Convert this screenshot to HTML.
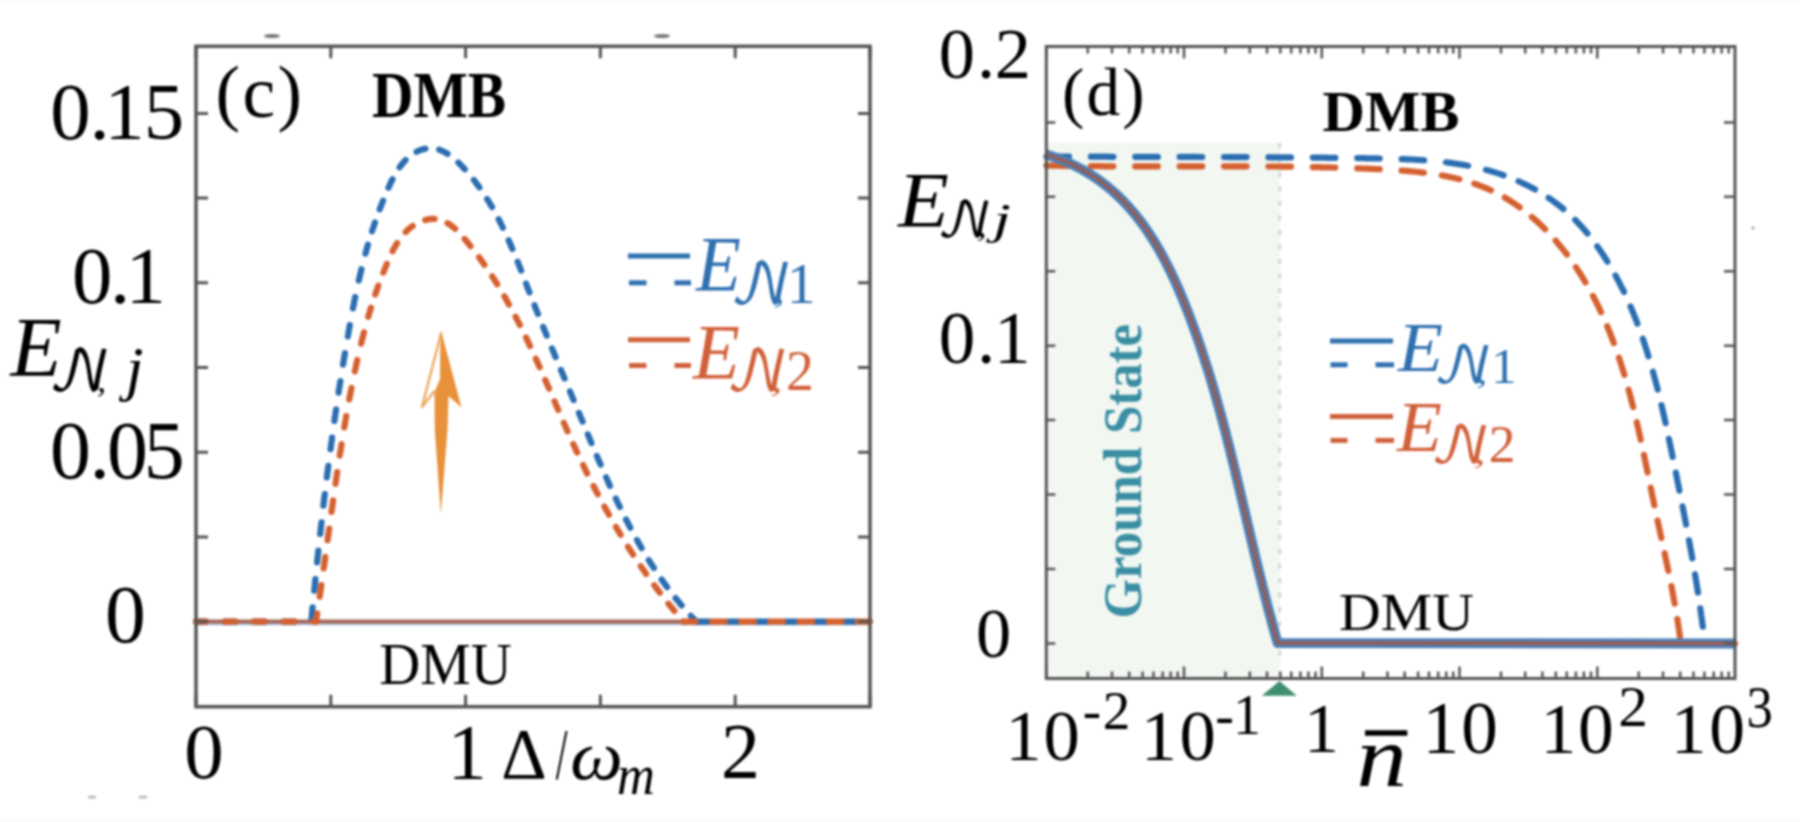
<!DOCTYPE html>
<html><head><meta charset="utf-8"><title>Figure</title>
<style>html,body{margin:0;padding:0;background:#fff;overflow:hidden;}svg{display:block;filter:blur(0.8px);}</style>
</head><body>
<svg width="1800" height="822" viewBox="0 0 1800 822">
<rect x="0" y="0" width="1800" height="822" fill="#ffffff"/>
<rect x="0" y="0" width="1800" height="2" fill="#f7f7f7"/>
<rect x="0" y="820" width="1800" height="2" fill="#f7f7f7"/>
<line x1="197" y1="623.4" x2="869" y2="623.4" stroke="#b5d3ee" stroke-width="4"/>
<line x1="197" y1="621.6" x2="869" y2="621.6" stroke="#a6695b" stroke-width="4.2"/>
<path d="M196.0,621.6 L311.3,621.6" fill="none" stroke="#2a6db0" stroke-width="6.2" stroke-dasharray="11 18.5" stroke-dashoffset="1" stroke-linecap="round" stroke-linejoin="round"/>
<path d="M311.3,621.5 L311.5,618.9 L311.8,616.2 L312.0,613.6 L312.2,611.0 L312.5,608.4 L312.8,605.8 L313.0,603.2 L313.3,600.5 L313.5,597.9 L313.8,595.3 L314.0,592.7 L314.3,590.1 L314.6,587.4 L314.8,584.8 L315.1,582.2 L315.3,579.6 L315.6,576.9 L315.9,574.3 L316.1,571.7 L316.4,569.0 L316.7,566.4 L317.0,563.8 L317.2,561.1 L317.5,558.5 L317.8,555.9 L318.1,553.2 L318.4,550.6 L318.6,548.0 L318.9,545.3 L319.2,542.7 L319.5,540.0 L319.8,537.4 L320.1,534.8 L320.4,532.1 L320.7,529.5 L321.0,526.9 L321.3,524.2 L321.6,521.6 L321.9,518.9 L322.2,516.3 L322.5,513.6 L322.8,511.0 L323.1,508.4 L323.4,505.7 L323.7,503.1 L324.0,500.4 L324.3,497.8 L324.7,495.2 L325.0,492.5 L325.3,489.9 L325.6,487.2 L325.9,484.6 L326.3,482.0 L326.6,479.3 L326.9,476.7 L327.3,474.0 L327.6,471.4 L327.9,468.7 L328.3,466.1 L328.6,463.5 L329.0,460.8 L329.3,458.2 L329.7,455.5 L330.0,452.9 L330.4,450.3 L330.7,447.6 L331.1,445.0 L331.4,442.4 L331.8,439.7 L332.1,437.1 L332.5,434.5 L332.9,431.8 L333.2,429.2 L333.6,426.6 L334.0,423.9 L334.4,421.3 L334.7,418.7 L335.1,416.0 L335.5,413.4 L335.9,410.8 L336.3,408.1 L336.7,405.5 L337.0,402.9 L337.4,400.3 L337.8,397.6 L338.2,395.0 L338.6,392.4 L339.0,389.8 L339.4,387.2 L339.8,384.5 L340.3,381.9 L340.7,379.3 L341.1,376.7 L341.5,374.1 L341.9,371.5 L342.3,368.9 L342.8,366.2 L343.2,363.6 L343.6,361.0 L344.1,358.4 L344.5,355.8 L344.9,353.2 L345.4,350.6 L345.8,348.0 L346.3,345.4 L346.7,342.8 L347.2,340.2 L347.6,337.6 L348.1,335.0 L348.5,332.4 L349.0,329.9 L349.4,327.3 L349.9,324.7 L350.4,322.1 L350.9,319.5 L351.3,316.9 L351.8,314.4 L352.3,311.8 L352.8,309.2 L353.3,306.6 L353.8,304.1 L354.3,301.5 L354.8,298.9 L355.4,296.3 L355.9,293.8 L356.4,291.2 L357.0,288.6 L357.6,286.1 L358.1,283.5 L358.7,280.9 L359.3,278.4 L359.9,275.8 L360.5,273.2 L361.1,270.7 L361.7,268.1 L362.3,265.5 L363.0,263.0 L363.6,260.4" fill="none" stroke="#2a6db0" stroke-width="6.2" stroke-dasharray="11.7 16.8" stroke-dashoffset="-2.45" stroke-linecap="round" stroke-linejoin="round"/>
<path d="M363.6,260.4 L364.3,257.9 L365.0,255.3 L365.7,252.8 L366.4,250.2 L367.1,247.6 L367.8,245.1 L368.6,242.5 L369.4,240.0 L370.1,237.4 L370.9,234.8 L371.7,232.3 L372.5,229.7 L373.4,227.2 L374.2,224.6 L375.1,222.1 L376.0,219.5 L376.9,216.9 L377.8,214.4 L378.7,211.8 L379.7,209.3 L380.7,206.7 L381.7,204.1 L382.7,201.6 L383.7,199.0 L384.8,196.5 L385.8,193.9 L386.9,191.3 L388.0,188.8 L389.2,186.2 L390.3,183.7 L391.5,181.2 L392.8,178.7 L394.1,176.3 L395.4,173.9 L396.8,171.6 L398.2,169.3 L399.7,167.1 L401.3,165.0 L402.9,163.0 L404.6,161.1 L406.4,159.2 L408.3,157.5 L410.2,155.9 L412.3,154.4 L414.4,153.0 L416.6,151.8 L418.8,150.7 L421.1,149.8 L423.4,149.1 L425.8,148.6 L428.1,148.3 L430.4,148.2 L432.7,148.3 L435.0,148.6 L437.3,149.1 L439.5,149.8 L441.7,150.7 L443.9,151.7 L446.1,152.9 L448.2,154.3 L450.3,155.7 L452.4,157.3 L454.5,159.0 L456.5,160.8 L458.5,162.6 L460.4,164.6 L462.4,166.6 L464.2,168.6 L466.1,170.6 L467.9,172.7 L469.7,174.8 L471.4,176.9 L473.2,179.1 L474.8,181.2 L476.5,183.4 L478.1,185.6 L479.7,187.8 L481.2,190.0 L482.7,192.2 L484.2,194.4 L485.7,196.7 L487.1,198.9 L488.5,201.2 L489.9,203.5 L491.3,205.8 L492.6,208.1 L493.9,210.4 L495.2,212.7 L496.5,215.1 L497.7,217.4 L499.0,219.8 L500.2,222.2 L501.3,224.5 L502.5,226.9 L503.6,229.3 L504.8,231.7 L505.9,234.1 L507.0,236.5 L508.1,239.0 L509.1,241.4 L510.2,243.8 L511.2,246.2 L512.3,248.7 L513.3,251.1 L514.3,253.6 L515.3,256.0 L516.3,258.5 L517.3,261.0 L518.3,263.4 L519.3,265.9 L520.2,268.4 L521.2,270.8 L522.1,273.3 L523.1,275.8 L524.0,278.3 L525.0,280.7 L525.9,283.2 L526.9,285.7 L527.8,288.2 L528.8,290.6 L529.8,293.1 L530.7,295.6 L531.7,298.1 L532.6,300.5 L533.6,303.0 L534.6,305.4 L535.5,307.9 L536.5,310.4 L537.5,312.8 L538.5,315.3 L539.5,317.7 L540.4,320.2 L541.4,322.6 L542.4,325.1 L543.4,327.5 L544.4,330.0 L545.4,332.4 L546.4,334.9 L547.4,337.3 L548.4,339.8 L549.4,342.2 L550.4,344.7 L551.4,347.1 L552.5,349.5 L553.5,352.0 L554.5,354.4 L555.5,356.9 L556.5,359.3 L557.5,361.8 L558.6,364.2 L559.6,366.6 L560.6,369.1 L561.6,371.5 L562.6,373.9 L563.7,376.4 L564.7,378.8 L565.7,381.3 L566.7,383.7 L567.8,386.2 L568.8,388.6 L569.8,391.0 L570.8,393.5 L571.8,395.9 L572.9,398.4 L573.9,400.8 L574.9,403.3 L575.9,405.7 L577.0,408.2 L578.0,410.6 L579.0,413.1 L580.0,415.5 L581.0,418.0 L582.1,420.4 L583.1,422.9 L584.1,425.3 L585.1,427.8 L586.1,430.2 L587.1,432.7 L588.2,435.2 L589.2,437.6 L590.2,440.1 L591.2,442.5 L592.3,445.0 L593.3,447.4 L594.3,449.9 L595.4,452.3 L596.4,454.8 L597.4,457.2 L598.5,459.7 L599.5,462.1 L600.6,464.6 L601.6,467.0 L602.7,469.5 L603.8,471.9 L604.8,474.3 L605.9,476.8 L607.0,479.2 L608.1,481.6 L609.1,484.1 L610.2,486.5 L611.3,488.9 L612.4,491.3 L613.6,493.7 L614.7,496.1 L615.8,498.5 L616.9,500.9 L618.1,503.3 L619.2,505.7 L620.4,508.1 L621.5,510.5 L622.7,512.9 L623.9,515.2 L625.1,517.6 L626.3,520.0 L627.5,522.3 L628.7,524.7 L629.9,527.0 L631.2,529.4 L632.4,531.7 L633.7,534.0 L634.9,536.3 L636.2,538.6 L637.5,540.9 L638.8,543.2 L640.1,545.5 L641.4,547.8 L642.8,550.1 L644.1,552.4 L645.5,554.6 L646.8,556.9 L648.2,559.1 L649.6,561.4 L651.0,563.6 L652.4,565.8 L653.9,568.0 L655.3,570.2 L656.8,572.4 L658.3,574.6 L659.8,576.8 L661.3,579.0 L662.8,581.1 L664.3,583.3 L665.9,585.4 L667.4,587.5 L669.0,589.7 L670.6,591.8 L672.2,593.9 L673.9,595.9 L675.5,598.0 L677.2,600.1 L678.9,602.1 L680.6,604.2 L682.3,606.2 L684.0,608.2 L685.8,610.2 L687.6,612.2 L689.4,614.2 L691.2,616.2 L693.0,618.2 L694.8,620.1 L696.7,622.0" fill="none" stroke="#2a6db0" stroke-width="6.2" stroke-dasharray="9.4 13.9" stroke-dashoffset="-6.95" stroke-linecap="round" stroke-linejoin="round"/>
<path d="M696.7,621.6 L870.0,621.6" fill="none" stroke="#2a6db0" stroke-width="6.2" stroke-dasharray="13 16.2" stroke-dashoffset="28.676922358886667" stroke-linecap="round" stroke-linejoin="round"/>
<path d="M196.0,621.6 L315.9,621.6" fill="none" stroke="#d5602f" stroke-width="6.2" stroke-dasharray="11 18.5" stroke-dashoffset="1" stroke-linecap="round" stroke-linejoin="round"/>
<path d="M315.9,621.6 L316.3,619.3 L316.6,617.1 L317.0,614.8 L317.3,612.6 L317.6,610.3 L318.0,608.1 L318.3,605.8 L318.7,603.6 L319.0,601.3 L319.3,599.1 L319.6,596.8 L320.0,594.5 L320.3,592.3 L320.6,590.0 L321.0,587.7 L321.3,585.5 L321.6,583.2 L321.9,580.9 L322.2,578.7 L322.6,576.4 L322.9,574.1 L323.2,571.9 L323.5,569.6 L323.8,567.3 L324.2,565.1 L324.5,562.8 L324.8,560.5 L325.1,558.2 L325.4,556.0 L325.7,553.7 L326.1,551.4 L326.4,549.1 L326.7,546.8 L327.0,544.6 L327.3,542.3 L327.6,540.0 L327.9,537.7 L328.3,535.4 L328.6,533.2 L328.9,530.9 L329.2,528.6 L329.5,526.3 L329.8,524.0 L330.1,521.8 L330.5,519.5 L330.8,517.2 L331.1,514.9 L331.4,512.6 L331.7,510.3 L332.1,508.1 L332.4,505.8 L332.7,503.5 L333.0,501.2 L333.3,498.9 L333.7,496.6 L334.0,494.3 L334.3,492.1 L334.6,489.8 L335.0,487.5 L335.3,485.2 L335.6,482.9 L336.0,480.7 L336.3,478.4 L336.6,476.1 L337.0,473.8 L337.3,471.5 L337.7,469.3 L338.0,467.0 L338.3,464.7 L338.7,462.4 L339.0,460.1 L339.4,457.9 L339.7,455.6 L340.1,453.3 L340.5,451.0 L340.8,448.8 L341.2,446.5 L341.5,444.2 L341.9,441.9 L342.3,439.7 L342.6,437.4 L343.0,435.1 L343.4,432.9 L343.8,430.6 L344.1,428.3 L344.5,426.1 L344.9,423.8 L345.3,421.5 L345.7,419.3 L346.1,417.0 L346.5,414.8 L346.9,412.5 L347.3,410.3 L347.7,408.0 L348.1,405.7 L348.5,403.5 L348.9,401.2 L349.3,399.0 L349.8,396.8 L350.2,394.5 L350.6,392.3 L351.1,390.0 L351.5,387.8 L351.9,385.5 L352.4,383.3 L352.8,381.1 L353.3,378.8 L353.7,376.6 L354.2,374.4 L354.7,372.1 L355.1,369.9 L355.6,367.7 L356.1,365.5 L356.6,363.2 L357.1,361.0 L357.6,358.8 L358.1,356.6 L358.6,354.4 L359.1,352.2 L359.6,349.9 L360.1,347.7 L360.6,345.5 L361.2,343.3 L361.7,341.1 L362.3,338.9 L362.8,336.7 L363.4,334.5 L364.0,332.3 L364.6,330.1 L365.1,327.9 L365.7,325.6 L366.4,323.4" fill="none" stroke="#d5602f" stroke-width="6.2" stroke-dasharray="11.7 16.8" stroke-dashoffset="3.25" stroke-linecap="round" stroke-linejoin="round"/>
<path d="M366.4,323.4 L367.0,321.2 L367.6,319.0 L368.2,316.8 L368.9,314.6 L369.5,312.4 L370.2,310.2 L370.9,308.0 L371.6,305.8 L372.2,303.6 L373.0,301.4 L373.7,299.2 L374.4,297.0 L375.1,294.8 L375.9,292.6 L376.7,290.4 L377.4,288.2 L378.2,286.0 L379.0,283.8 L379.8,281.6 L380.6,279.4 L381.5,277.2 L382.3,275.0 L383.2,272.8 L384.1,270.6 L385.0,268.4 L385.9,266.2 L386.8,264.0 L387.7,261.8 L388.7,259.6 L389.7,257.4 L390.7,255.2 L391.7,253.1 L392.7,250.9 L393.8,248.8 L395.0,246.7 L396.2,244.7 L397.4,242.7 L398.7,240.7 L400.0,238.8 L401.4,237.0 L402.8,235.2 L404.3,233.4 L405.9,231.8 L407.5,230.2 L409.2,228.6 L411.0,227.2 L412.9,225.8 L414.9,224.6 L416.9,223.4 L419.0,222.4 L421.1,221.4 L423.2,220.6 L425.4,219.9 L427.5,219.4 L429.7,219.1 L431.8,218.8 L433.9,218.8 L436.0,219.0 L438.0,219.3 L439.9,219.8 L441.9,220.4 L443.7,221.1 L445.6,222.0 L447.4,223.1 L449.2,224.2 L450.9,225.4 L452.7,226.8 L454.4,228.2 L456.0,229.7 L457.7,231.3 L459.3,233.0 L460.9,234.7 L462.4,236.4 L464.0,238.2 L465.5,240.0 L467.0,241.8 L468.5,243.6 L470.0,245.5 L471.5,247.3 L472.9,249.2 L474.4,251.0 L475.8,252.9 L477.2,254.7 L478.6,256.6 L480.0,258.5 L481.3,260.4 L482.7,262.3 L484.0,264.2 L485.4,266.1 L486.7,268.0 L488.0,269.9 L489.3,271.9 L490.6,273.8 L491.8,275.7 L493.1,277.7 L494.3,279.6 L495.6,281.6 L496.8,283.5 L498.0,285.5 L499.2,287.5 L500.4,289.4 L501.6,291.4 L502.7,293.4 L503.9,295.4 L505.0,297.4 L506.2,299.4 L507.3,301.4 L508.4,303.4 L509.5,305.4 L510.6,307.4 L511.7,309.4 L512.8,311.4 L513.9,313.5 L515.0,315.5 L516.0,317.5 L517.1,319.6 L518.1,321.6 L519.2,323.6 L520.2,325.7 L521.2,327.7 L522.3,329.8 L523.3,331.9 L524.3,333.9 L525.3,336.0 L526.3,338.0 L527.3,340.1 L528.2,342.2 L529.2,344.3 L530.2,346.3 L531.2,348.4 L532.1,350.5 L533.1,352.6 L534.0,354.7 L535.0,356.7 L535.9,358.8 L536.9,360.9 L537.8,363.0 L538.7,365.1 L539.7,367.2 L540.6,369.3 L541.5,371.4 L542.5,373.5 L543.4,375.6 L544.3,377.7 L545.2,379.8 L546.1,381.9 L547.0,384.0 L548.0,386.1 L548.9,388.2 L549.8,390.3 L550.7,392.4 L551.6,394.6 L552.5,396.7 L553.4,398.8 L554.3,400.9 L555.2,403.0 L556.1,405.1 L557.0,407.2 L558.0,409.3 L558.9,411.4 L559.8,413.5 L560.7,415.6 L561.6,417.8 L562.5,419.9 L563.4,422.0 L564.4,424.1 L565.3,426.2 L566.2,428.3 L567.1,430.4 L568.1,432.5 L569.0,434.6 L569.9,436.7 L570.9,438.8 L571.8,440.9 L572.8,443.0 L573.7,445.1 L574.7,447.2 L575.6,449.2 L576.6,451.3 L577.6,453.4 L578.5,455.5 L579.5,457.6 L580.5,459.7 L581.5,461.7 L582.5,463.8 L583.5,465.9 L584.5,468.0 L585.5,470.0 L586.5,472.1 L587.5,474.2 L588.6,476.2 L589.6,478.3 L590.6,480.3 L591.7,482.4 L592.7,484.4 L593.8,486.5 L594.8,488.5 L595.9,490.6 L596.9,492.6 L598.0,494.6 L599.1,496.7 L600.2,498.7 L601.2,500.7 L602.3,502.8 L603.4,504.8 L604.5,506.8 L605.6,508.8 L606.8,510.8 L607.9,512.8 L609.0,514.8 L610.1,516.8 L611.3,518.8 L612.4,520.8 L613.6,522.8 L614.7,524.8 L615.9,526.8 L617.0,528.8 L618.2,530.7 L619.4,532.7 L620.6,534.7 L621.8,536.6 L623.0,538.6 L624.2,540.5 L625.4,542.5 L626.6,544.4 L627.8,546.4 L629.0,548.3 L630.3,550.3 L631.5,552.2 L632.7,554.1 L634.0,556.0 L635.3,557.9 L636.5,559.9 L637.8,561.8 L639.1,563.7 L640.4,565.6 L641.6,567.5 L642.9,569.3 L644.3,571.2 L645.6,573.1 L646.9,575.0 L648.2,576.9 L649.5,578.7 L650.9,580.6 L652.2,582.4 L653.6,584.3 L654.9,586.1 L656.3,588.0 L657.7,589.8 L659.1,591.6 L660.4,593.4 L661.8,595.3 L663.2,597.1 L664.6,598.9 L666.1,600.7 L667.5,602.5 L668.9,604.3 L670.4,606.0 L671.8,607.8 L673.3,609.6 L674.7,611.3 L676.2,613.1 L677.7,614.9 L679.1,616.6 L680.6,618.4 L682.1,620.1 L683.6,621.8" fill="none" stroke="#d5602f" stroke-width="6.2" stroke-dasharray="9.4 13.9" stroke-dashoffset="-6.95" stroke-linecap="round" stroke-linejoin="round"/>
<path d="M683.6,621.6 L870.0,621.6" fill="none" stroke="#d5602f" stroke-width="6.2" stroke-dasharray="13 16.2" stroke-dashoffset="1" stroke-linecap="round" stroke-linejoin="round"/>
<path d="M441.4,332 L422,407 L434.5,391" fill="none" stroke="#eea862" stroke-width="2.4" stroke-linejoin="round"/>
<path d="M441.4,332 L461.5,407.6 L448.5,396 L447.5,430 L440.8,514 L434.8,430 L434.5,392 L440,379 L440.3,345 Z" fill="#e8913a"/>
<rect x="196" y="46.3" width="674" height="660.4" fill="none" stroke="#555555" stroke-width="3.5"/>
<path d="M196.0,706.7 v-12 M196.0,46.3 v12 M330.8,706.7 v-12 M330.8,46.3 v12 M465.6,706.7 v-12 M465.6,46.3 v12 M600.4,706.7 v-12 M600.4,46.3 v12 M735.2,706.7 v-12 M735.2,46.3 v12 M870.0,706.7 v-12 M870.0,46.3 v12 M196,621.6 h12 M870,621.6 h-12 M196,536.9 h12 M870,536.9 h-12 M196,452.2 h12 M870,452.2 h-12 M196,367.5 h12 M870,367.5 h-12 M196,282.8 h12 M870,282.8 h-12 M196,198.1 h12 M870,198.1 h-12 M196,113.4 h12 M870,113.4 h-12" stroke="#555555" stroke-width="3" fill="none"/>
<rect x="1046.3" y="142.5" width="233.5" height="536" fill="#f2f7f2"/>
<line x1="1279.8" y1="143" x2="1279.8" y2="664" stroke="#cfcfcf" stroke-width="2.5" stroke-dasharray="5 9.5"/>
<path d="M1046.5,156.5 L1048.2,156.6 L1049.9,156.6 L1051.6,156.6 L1053.3,156.6 L1055.0,156.6 L1056.7,156.6 L1058.4,156.6 L1060.0,156.6 L1061.7,156.6 L1063.4,156.6 L1065.1,156.6 L1066.8,156.6 L1068.5,156.6 L1070.2,156.6 L1071.9,156.6 L1073.5,156.7 L1075.2,156.7 L1076.9,156.7 L1078.6,156.7 L1080.3,156.7 L1081.9,156.7 L1083.6,156.7 L1085.3,156.7 L1087.0,156.7 L1088.6,156.7 L1090.3,156.7 L1092.0,156.7 L1093.7,156.7 L1095.3,156.7 L1097.0,156.7 L1098.7,156.7 L1100.3,156.7 L1102.0,156.7 L1103.7,156.7 L1105.3,156.7 L1107.0,156.7 L1108.7,156.8 L1110.3,156.8 L1112.0,156.8 L1113.7,156.8 L1115.3,156.8 L1117.0,156.8 L1118.6,156.8 L1120.3,156.8 L1122.0,156.8 L1123.6,156.8 L1125.3,156.8 L1126.9,156.8 L1128.6,156.8 L1130.2,156.8 L1131.9,156.8 L1133.5,156.8 L1135.2,156.8 L1136.9,156.8 L1138.5,156.8 L1140.2,156.8 L1141.8,156.8 L1143.5,156.8 L1145.1,156.8 L1146.8,156.8 L1148.4,156.8 L1150.1,156.8 L1151.7,156.8 L1153.4,156.8 L1155.0,156.8 L1156.6,156.9 L1158.3,156.9 L1159.9,156.9 L1161.6,156.9 L1163.2,156.9 L1164.9,156.9 L1166.5,156.9 L1168.2,156.9 L1169.8,156.9 L1171.4,156.9 L1173.1,156.9 L1174.7,156.9 L1176.4,156.9 L1178.0,156.9 L1179.7,156.9 L1181.3,156.9 L1182.9,156.9 L1184.6,156.9 L1186.2,156.9 L1187.9,156.9 L1189.5,156.9 L1191.1,156.9 L1192.8,156.9 L1194.4,156.9 L1196.1,156.9 L1197.7,156.9 L1199.3,157.0 L1201.0,157.0 L1202.6,157.0 L1204.2,157.0 L1205.9,157.0 L1207.5,157.0 L1209.2,157.0 L1210.8,157.0 L1212.4,157.0 L1214.1,157.0 L1215.7,157.0 L1217.4,157.0 L1219.0,157.0 L1220.6,157.0 L1222.3,157.0 L1223.9,157.0 L1225.5,157.0 L1227.2,157.0 L1228.8,157.1 L1230.5,157.1 L1232.1,157.1 L1233.7,157.1 L1235.4,157.1 L1237.0,157.1 L1238.7,157.1 L1240.3,157.1 L1241.9,157.1 L1243.6,157.1 L1245.2,157.1 L1246.8,157.1 L1248.5,157.1 L1250.1,157.1 L1251.8,157.2 L1253.4,157.2 L1255.0,157.2 L1256.7,157.2 L1258.3,157.2 L1260.0,157.2 L1261.6,157.2 L1263.3,157.2 L1264.9,157.2 L1266.5,157.2 L1268.2,157.2 L1269.8,157.3 L1271.5,157.3 L1273.1,157.3 L1274.8,157.3 L1276.4,157.3 L1278.0,157.3 L1279.7,157.3 L1281.3,157.3 L1283.0,157.3 L1284.6,157.4 L1286.3,157.4 L1287.9,157.4 L1289.6,157.4 L1291.2,157.4 L1292.9,157.4 L1294.5,157.4 L1296.2,157.5 L1297.8,157.5 L1299.5,157.5 L1301.1,157.5 L1302.8,157.5 L1304.4,157.5 L1306.1,157.5 L1307.7,157.6 L1309.4,157.6 L1311.1,157.6 L1312.7,157.6 L1314.4,157.6 L1316.0,157.6 L1317.7,157.7 L1319.3,157.7 L1321.0,157.7 L1322.7,157.7 L1324.3,157.7 L1326.0,157.7 L1327.7,157.8 L1329.3,157.8 L1331.0,157.8 L1332.7,157.8 L1334.3,157.8 L1336.0,157.9 L1337.7,157.9 L1339.3,157.9 L1341.0,157.9 L1342.7,157.9 L1344.3,158.0 L1346.0,158.0 L1347.7,158.0 L1349.4,158.0 L1351.0,158.0 L1352.7,158.1 L1354.4,158.1 L1356.1,158.1 L1357.7,158.1 L1359.4,158.2 L1361.1,158.2 L1362.8,158.2 L1364.5,158.2 L1366.1,158.3 L1367.8,158.3 L1369.5,158.3 L1371.2,158.3 L1372.9,158.4 L1374.6,158.4 L1376.3,158.4 L1378.0,158.5 L1379.6,158.5 L1381.3,158.5 L1383.0,158.6 L1384.7,158.6 L1386.4,158.6 L1388.1,158.7 L1389.8,158.7 L1391.5,158.8 L1393.2,158.8 L1394.9,158.9 L1396.6,158.9 L1398.3,159.0 L1400.0,159.0 L1401.7,159.1 L1403.3,159.1 L1405.0,159.2 L1406.7,159.3 L1408.4,159.4 L1410.1,159.4 L1411.8,159.5 L1413.5,159.6 L1415.2,159.7 L1416.9,159.8 L1418.6,159.9 L1420.3,160.0 L1421.9,160.1 L1423.6,160.2 L1425.3,160.3 L1427.0,160.5 L1428.7,160.6 L1430.3,160.7 L1432.0,160.9 L1433.7,161.0 L1435.4,161.2 L1437.1,161.3 L1438.7,161.5 L1440.4,161.7 L1442.1,161.9 L1443.7,162.1 L1445.4,162.2 L1447.1,162.5 L1448.7,162.7 L1450.4,162.9 L1452.0,163.1 L1453.7,163.3 L1455.3,163.6 L1457.0,163.8 L1458.6,164.1 L1460.3,164.3 L1461.9,164.6 L1463.6,164.9 L1465.2,165.2 L1466.8,165.5 L1468.5,165.8 L1470.1,166.1 L1471.7,166.5 L1473.3,166.8 L1475.0,167.1 L1476.6,167.5 L1478.2,167.9" fill="none" stroke="#2a6db0" stroke-width="6.2" stroke-dasharray="22.5 21.9" stroke-dashoffset="0" stroke-linecap="round" stroke-linejoin="round"/>
<path d="M1478.2,167.9 L1479.8,168.2 L1481.4,168.6 L1483.0,169.0 L1484.6,169.4 L1486.2,169.9 L1487.8,170.3 L1489.4,170.7 L1491.0,171.2 L1492.5,171.7 L1494.1,172.1 L1495.7,172.6 L1497.3,173.1 L1498.8,173.6 L1500.4,174.1 L1501.9,174.7 L1503.5,175.2 L1505.0,175.8 L1506.6,176.4 L1508.1,176.9 L1509.6,177.5 L1511.2,178.1 L1512.7,178.7 L1514.2,179.4 L1515.7,180.0 L1517.2,180.6 L1518.7,181.3 L1520.2,182.0 L1521.7,182.7 L1523.2,183.4 L1524.6,184.1 L1526.1,184.8 L1527.6,185.5 L1529.0,186.3 L1530.5,187.0 L1531.9,187.8 L1533.3,188.5 L1534.8,189.3 L1536.2,190.1 L1537.6,190.9 L1539.0,191.8 L1540.4,192.6 L1541.8,193.4 L1543.2,194.3 L1544.5,195.2 L1545.9,196.1 L1547.3,196.9 L1548.6,197.9 L1550.0,198.8 L1551.3,199.7 L1552.6,200.6 L1553.9,201.6 L1555.2,202.6 L1556.5,203.5 L1557.8,204.5 L1559.1,205.5 L1560.4,206.5 L1561.6,207.5 L1562.9,208.6 L1564.1,209.6 L1565.4,210.7 L1566.6,211.8 L1567.8,212.8 L1569.0,213.9 L1570.2,215.0 L1571.4,216.2 L1572.6,217.3 L1573.7,218.4 L1574.9,219.6 L1576.0,220.7 L1577.2,221.9 L1578.3,223.1 L1579.4,224.3 L1580.5,225.5 L1581.6,226.7 L1582.7,227.9 L1583.8,229.1 L1584.8,230.4 L1585.9,231.6 L1587.0,232.9 L1588.0,234.2 L1589.0,235.4 L1590.1,236.7 L1591.1,238.0 L1592.1,239.3 L1593.1,240.6 L1594.1,241.9 L1595.1,243.3 L1596.0,244.6 L1597.0,245.9 L1597.9,247.3 L1598.9,248.6 L1599.8,250.0 L1600.8,251.3 L1601.7,252.7 L1602.6,254.1 L1603.5,255.4 L1604.4,256.8 L1605.3,258.2 L1606.2,259.6 L1607.0,261.0 L1607.9,262.4 L1608.8,263.8 L1609.6,265.2 L1610.5,266.7 L1611.3,268.1 L1612.1,269.5 L1612.9,270.9 L1613.8,272.4 L1614.6,273.8 L1615.4,275.3 L1616.2,276.7 L1616.9,278.2 L1617.7,279.6 L1618.5,281.1 L1619.2,282.6 L1620.0,284.0 L1620.7,285.5 L1621.5,287.0 L1622.2,288.5 L1623.0,289.9 L1623.7,291.4 L1624.4,292.9 L1625.1,294.4 L1625.8,295.9 L1626.5,297.4 L1627.2,298.9 L1627.9,300.4 L1628.5,302.0 L1629.2,303.5 L1629.9,305.0 L1630.5,306.5 L1631.2,308.0 L1631.8,309.6 L1632.5,311.1 L1633.1,312.6 L1633.7,314.2 L1634.3,315.7 L1635.0,317.3 L1635.6,318.8 L1636.2,320.4 L1636.8,321.9 L1637.4,323.5 L1637.9,325.0 L1638.5,326.6 L1639.1,328.2 L1639.7,329.7 L1640.2,331.3 L1640.8,332.9 L1641.4,334.5 L1641.9,336.0 L1642.5,337.6 L1643.0,339.2 L1643.5,340.8 L1644.1,342.4 L1644.6,344.0 L1645.1,345.6 L1645.6,347.2 L1646.1,348.7 L1646.6,350.3 L1647.1,351.9 L1647.6,353.6 L1648.1,355.2 L1648.6,356.8 L1649.1,358.4 L1649.6,360.0 L1650.1,361.6 L1650.5,363.2 L1651.0,364.8 L1651.5,366.4 L1651.9,368.1 L1652.4,369.7 L1652.9,371.3 L1653.3,372.9 L1653.7,374.5 L1654.2,376.2 L1654.6,377.8 L1655.1,379.4 L1655.5,381.1 L1655.9,382.7 L1656.3,384.3 L1656.8,385.9 L1657.2,387.6 L1657.6,389.2 L1658.0,390.8 L1658.4,392.5 L1658.8,394.1 L1659.2,395.8 L1659.6,397.4 L1660.0,399.0 L1660.4,400.7 L1660.8,402.3 L1661.2,404.0 L1661.6,405.6 L1662.0,407.2 L1662.4,408.9 L1662.7,410.5 L1663.1,412.2 L1663.5,413.8 L1663.9,415.5 L1664.2,417.1 L1664.6,418.7 L1665.0,420.4 L1665.3,422.0 L1665.7,423.7 L1666.0,425.3 L1666.4,427.0 L1666.8,428.6 L1667.1,430.3 L1667.5,431.9 L1667.8,433.5 L1668.2,435.2 L1668.5,436.8 L1668.8,438.5 L1669.2,440.1 L1669.5,441.8 L1669.9,443.4 L1670.2,445.0 L1670.6,446.7 L1670.9,448.3 L1671.2,450.0 L1671.6,451.6 L1671.9,453.2 L1672.2,454.9 L1672.6,456.5 L1672.9,458.1 L1673.2,459.8 L1673.6,461.4 L1673.9,463.0 L1674.2,464.7 L1674.5,466.3 L1674.9,467.9 L1675.2,469.6 L1675.5,471.2 L1675.9,472.8 L1676.2,474.4 L1676.5,476.0 L1676.8,477.7 L1677.2,479.3 L1677.5,480.9 L1677.8,482.5 L1678.1,484.1 L1678.5,485.8 L1678.8,487.4 L1679.1,489.0 L1679.4,490.6 L1679.7,492.2 L1680.1,493.8 L1680.4,495.4 L1680.7,497.0 L1681.0,498.6 L1681.3,500.3 L1681.7,501.9 L1682.0,503.5 L1682.3,505.1 L1682.6,506.7 L1682.9,508.3 L1683.2,509.9 L1683.6,511.5 L1683.9,513.1 L1684.2,514.7 L1684.5,516.3 L1684.8,517.9 L1685.1,519.5 L1685.4,521.1 L1685.7,522.7 L1686.0,524.3 L1686.3,525.9 L1686.6,527.5 L1686.9,529.1 L1687.3,530.7 L1687.6,532.3 L1687.9,533.9 L1688.2,535.5 L1688.5,537.1 L1688.8,538.8 L1689.0,540.4 L1689.3,542.0 L1689.6,543.6 L1689.9,545.2 L1690.2,546.8 L1690.5,548.4 L1690.8,550.0 L1691.1,551.6 L1691.4,553.2 L1691.7,554.8 L1692.0,556.4 L1692.2,558.0 L1692.5,559.6 L1692.8,561.3 L1693.1,562.9 L1693.4,564.5 L1693.6,566.1 L1693.9,567.7 L1694.2,569.3 L1694.5,571.0 L1694.7,572.6 L1695.0,574.2 L1695.3,575.8 L1695.5,577.4 L1695.8,579.1 L1696.1,580.7 L1696.3,582.3 L1696.6,583.9 L1696.9,585.6 L1697.1,587.2 L1697.4,588.8 L1697.6,590.5 L1697.9,592.1 L1698.1,593.7 L1698.4,595.4 L1698.6,597.0 L1698.9,598.6 L1699.1,600.3 L1699.4,601.9 L1699.6,603.6 L1699.8,605.2 L1700.1,606.9 L1700.3,608.5 L1700.6,610.2 L1700.8,611.8 L1701.0,613.5 L1701.2,615.2 L1701.5,616.8 L1701.7,618.5 L1701.9,620.2 L1702.1,621.8 L1702.4,623.5 L1702.6,625.2 L1702.8,626.8 L1703.0,628.5 L1703.2,630.2 L1703.4,631.9 L1703.6,633.6 L1703.8,635.3 L1704.0,636.9 L1704.2,638.6 L1704.4,640.3 L1704.6,642.0 L1704.8,643.7 L1735.0,643.5" fill="none" stroke="#2a6db0" stroke-width="6.2" stroke-dasharray="18.5 16.0" stroke-dashoffset="-8.0" stroke-linecap="round" stroke-linejoin="round"/>
<path d="M1046.5,165.5 L1048.1,165.6 L1049.8,165.6 L1051.4,165.6 L1053.1,165.7 L1054.7,165.7 L1056.4,165.7 L1058.0,165.7 L1059.6,165.8 L1061.3,165.8 L1062.9,165.8 L1064.5,165.9 L1066.2,165.9 L1067.8,165.9 L1069.4,165.9 L1071.1,165.9 L1072.7,166.0 L1074.3,166.0 L1076.0,166.0 L1077.6,166.0 L1079.2,166.0 L1080.8,166.1 L1082.4,166.1 L1084.1,166.1 L1085.7,166.1 L1087.3,166.1 L1088.9,166.1 L1090.5,166.2 L1092.1,166.2 L1093.7,166.2 L1095.4,166.2 L1097.0,166.2 L1098.6,166.2 L1100.2,166.2 L1101.8,166.2 L1103.4,166.3 L1105.0,166.3 L1106.6,166.3 L1108.2,166.3 L1109.8,166.3 L1111.4,166.3 L1113.0,166.3 L1114.6,166.3 L1116.2,166.3 L1117.8,166.3 L1119.4,166.3 L1121.0,166.3 L1122.6,166.3 L1124.2,166.3 L1125.8,166.3 L1127.4,166.3 L1129.0,166.4 L1130.5,166.4 L1132.1,166.4 L1133.7,166.4 L1135.3,166.4 L1136.9,166.4 L1138.5,166.4 L1140.1,166.4 L1141.7,166.4 L1143.2,166.4 L1144.8,166.4 L1146.4,166.4 L1148.0,166.4 L1149.6,166.4 L1151.2,166.4 L1152.7,166.4 L1154.3,166.4 L1155.9,166.4 L1157.5,166.4 L1159.1,166.4 L1160.6,166.4 L1162.2,166.4 L1163.8,166.4 L1165.4,166.4 L1166.9,166.3 L1168.5,166.3 L1170.1,166.3 L1171.7,166.3 L1173.2,166.3 L1174.8,166.3 L1176.4,166.3 L1178.0,166.3 L1179.5,166.3 L1181.1,166.3 L1182.7,166.3 L1184.3,166.3 L1185.8,166.3 L1187.4,166.3 L1189.0,166.3 L1190.6,166.3 L1192.1,166.3 L1193.7,166.3 L1195.3,166.3 L1196.8,166.3 L1198.4,166.3 L1200.0,166.3 L1201.5,166.3 L1203.1,166.3 L1204.7,166.3 L1206.3,166.3 L1207.8,166.3 L1209.4,166.3 L1211.0,166.3 L1212.5,166.3 L1214.1,166.3 L1215.7,166.3 L1217.3,166.3 L1218.8,166.3 L1220.4,166.3 L1222.0,166.3 L1223.5,166.3 L1225.1,166.3 L1226.7,166.3 L1228.2,166.3 L1229.8,166.3 L1231.4,166.3 L1233.0,166.3 L1234.5,166.3 L1236.1,166.3 L1237.7,166.3 L1239.2,166.3 L1240.8,166.3 L1242.4,166.3 L1244.0,166.3 L1245.5,166.3 L1247.1,166.3 L1248.7,166.3 L1250.3,166.3 L1251.8,166.4 L1253.4,166.4 L1255.0,166.4 L1256.6,166.4 L1258.1,166.4 L1259.7,166.4 L1261.3,166.4 L1262.9,166.4 L1264.4,166.4 L1266.0,166.4 L1267.6,166.5 L1269.2,166.5 L1270.8,166.5 L1272.3,166.5 L1273.9,166.5 L1275.5,166.5 L1277.1,166.5 L1278.7,166.6 L1280.2,166.6 L1281.8,166.6 L1283.4,166.6 L1285.0,166.6 L1286.6,166.6 L1288.2,166.7 L1289.8,166.7 L1291.3,166.7 L1292.9,166.7 L1294.5,166.7 L1296.1,166.8 L1297.7,166.8 L1299.3,166.8 L1300.9,166.8 L1302.5,166.9 L1304.1,166.9 L1305.7,166.9 L1307.3,167.0 L1308.9,167.0 L1310.5,167.0 L1312.1,167.0 L1313.7,167.1 L1315.3,167.1 L1316.9,167.1 L1318.5,167.2 L1320.1,167.2 L1321.7,167.3 L1323.3,167.3 L1324.9,167.3 L1326.5,167.4 L1328.1,167.4 L1329.7,167.4 L1331.3,167.5 L1332.9,167.5 L1334.5,167.6 L1336.1,167.6 L1337.8,167.7 L1339.4,167.7 L1341.0,167.8 L1342.6,167.8 L1344.2,167.9 L1345.9,167.9 L1347.5,168.0 L1349.1,168.0 L1350.7,168.1 L1352.3,168.1 L1354.0,168.2 L1355.6,168.2 L1357.2,168.3 L1358.9,168.4 L1360.5,168.4 L1362.1,168.5 L1363.8,168.5 L1365.4,168.6 L1367.0,168.7 L1368.7,168.7 L1370.3,168.8 L1372.0,168.9 L1373.6,168.9 L1375.2,169.0 L1376.9,169.1 L1378.5,169.2 L1380.2,169.2 L1381.8,169.3 L1383.5,169.4 L1385.1,169.5 L1386.8,169.6 L1388.4,169.7 L1390.1,169.8 L1391.7,169.9 L1393.4,170.0 L1395.0,170.1 L1396.7,170.2 L1398.3,170.3 L1399.9,170.4 L1401.6,170.5 L1403.2,170.7 L1404.9,170.8 L1406.5,170.9 L1408.2,171.1 L1409.8,171.2 L1411.4,171.4 L1413.1,171.5 L1414.7,171.7 L1416.3,171.8 L1418.0,172.0 L1419.6,172.2 L1421.2,172.4 L1422.9,172.6 L1424.5,172.8 L1426.1,173.0 L1427.7,173.2 L1429.3,173.4 L1430.9,173.7 L1432.6,173.9 L1434.2,174.1" fill="none" stroke="#d5602f" stroke-width="6.2" stroke-dasharray="22.5 21.9" stroke-dashoffset="0" stroke-linecap="round" stroke-linejoin="round"/>
<path d="M1434.2,174.1 L1435.8,174.4 L1437.4,174.7 L1439.0,174.9 L1440.6,175.2 L1442.1,175.5 L1443.7,175.8 L1445.3,176.1 L1446.9,176.4 L1448.5,176.7 L1450.0,177.0 L1451.6,177.4 L1453.2,177.7 L1454.7,178.1 L1456.3,178.5 L1457.8,178.8 L1459.4,179.2 L1460.9,179.6 L1462.4,180.0 L1463.9,180.5 L1465.5,180.9 L1467.0,181.3 L1468.5,181.8 L1470.0,182.3 L1471.5,182.7 L1473.0,183.2 L1474.5,183.7 L1476.0,184.2 L1477.4,184.8 L1478.9,185.3 L1480.4,185.9 L1481.8,186.4 L1483.3,187.0 L1484.7,187.6 L1486.2,188.2 L1487.6,188.8 L1489.0,189.4 L1490.4,190.1 L1491.8,190.7 L1493.2,191.4 L1494.6,192.1 L1496.0,192.8 L1497.4,193.5 L1498.8,194.2 L1500.1,195.0 L1501.5,195.7 L1502.8,196.5 L1504.2,197.2 L1505.5,198.0 L1506.9,198.8 L1508.2,199.6 L1509.5,200.4 L1510.8,201.3 L1512.1,202.1 L1513.4,203.0 L1514.7,203.8 L1516.0,204.7 L1517.3,205.6 L1518.5,206.5 L1519.8,207.4 L1521.0,208.3 L1522.3,209.2 L1523.5,210.2 L1524.8,211.1 L1526.0,212.1 L1527.2,213.1 L1528.4,214.0 L1529.6,215.0 L1530.8,216.0 L1532.0,217.0 L1533.2,218.1 L1534.4,219.1 L1535.5,220.1 L1536.7,221.2 L1537.9,222.2 L1539.0,223.3 L1540.2,224.4 L1541.3,225.5 L1542.4,226.6 L1543.5,227.7 L1544.7,228.8 L1545.8,229.9 L1546.9,231.0 L1548.0,232.2 L1549.0,233.3 L1550.1,234.5 L1551.2,235.6 L1552.3,236.8 L1553.3,238.0 L1554.4,239.2 L1555.4,240.3 L1556.4,241.5 L1557.5,242.8 L1558.5,244.0 L1559.5,245.2 L1560.5,246.4 L1561.5,247.6 L1562.5,248.9 L1563.5,250.1 L1564.5,251.4 L1565.5,252.7 L1566.4,253.9 L1567.4,255.2 L1568.3,256.5 L1569.3,257.8 L1570.2,259.1 L1571.2,260.4 L1572.1,261.7 L1573.0,263.0 L1573.9,264.3 L1574.8,265.6 L1575.7,266.9 L1576.6,268.3 L1577.5,269.6 L1578.4,270.9 L1579.2,272.3 L1580.1,273.6 L1581.0,275.0 L1581.8,276.3 L1582.6,277.7 L1583.5,279.1 L1584.3,280.4 L1585.1,281.8 L1585.9,283.2 L1586.7,284.6 L1587.5,286.0 L1588.3,287.4 L1589.1,288.8 L1589.9,290.2 L1590.7,291.6 L1591.4,293.0 L1592.2,294.4 L1592.9,295.8 L1593.7,297.2 L1594.4,298.6 L1595.1,300.0 L1595.9,301.5 L1596.6,302.9 L1597.3,304.3 L1598.0,305.8 L1598.7,307.2 L1599.4,308.6 L1600.1,310.1 L1600.7,311.5 L1601.4,313.0 L1602.1,314.4 L1602.7,315.9 L1603.4,317.3 L1604.0,318.8 L1604.7,320.2 L1605.3,321.7 L1605.9,323.2 L1606.5,324.6 L1607.2,326.1 L1607.8,327.6 L1608.4,329.1 L1609.0,330.5 L1609.6,332.0 L1610.2,333.5 L1610.8,335.0 L1611.3,336.5 L1611.9,338.0 L1612.5,339.5 L1613.0,341.0 L1613.6,342.5 L1614.1,344.0 L1614.7,345.5 L1615.2,347.0 L1615.8,348.5 L1616.3,350.0 L1616.8,351.5 L1617.4,353.0 L1617.9,354.5 L1618.4,356.0 L1618.9,357.6 L1619.4,359.1 L1619.9,360.6 L1620.4,362.1 L1620.9,363.7 L1621.4,365.2 L1621.9,366.7 L1622.3,368.2 L1622.8,369.8 L1623.3,371.3 L1623.8,372.8 L1624.2,374.4 L1624.7,375.9 L1625.1,377.5 L1625.6,379.0 L1626.0,380.6 L1626.5,382.1 L1626.9,383.6 L1627.3,385.2 L1627.8,386.7 L1628.2,388.3 L1628.6,389.8 L1629.1,391.4 L1629.5,393.0 L1629.9,394.5 L1630.3,396.1 L1630.7,397.6 L1631.1,399.2 L1631.5,400.7 L1631.9,402.3 L1632.3,403.9 L1632.7,405.4 L1633.1,407.0 L1633.5,408.6 L1633.9,410.1 L1634.3,411.7 L1634.6,413.3 L1635.0,414.8 L1635.4,416.4 L1635.8,418.0 L1636.1,419.5 L1636.5,421.1 L1636.9,422.7 L1637.2,424.2 L1637.6,425.8 L1638.0,427.4 L1638.3,429.0 L1638.7,430.5 L1639.0,432.1 L1639.4,433.7 L1639.7,435.3 L1640.1,436.8 L1640.4,438.4 L1640.8,440.0 L1641.1,441.6 L1641.5,443.1 L1641.8,444.7 L1642.1,446.3 L1642.5,447.9 L1642.8,449.5 L1643.2,451.0 L1643.5,452.6 L1643.8,454.2 L1644.2,455.8 L1644.5,457.3 L1644.8,458.9 L1645.1,460.5 L1645.5,462.1 L1645.8,463.6 L1646.1,465.2 L1646.4,466.8 L1646.8,468.4 L1647.1,469.9 L1647.4,471.5 L1647.7,473.1 L1648.1,474.7 L1648.4,476.2 L1648.7,477.8 L1649.0,479.4 L1649.4,481.0 L1649.7,482.5 L1650.0,484.1 L1650.3,485.7 L1650.6,487.3 L1651.0,488.8 L1651.3,490.4 L1651.6,492.0 L1651.9,493.5 L1652.2,495.1 L1652.6,496.7 L1652.9,498.2 L1653.2,499.8 L1653.5,501.3 L1653.9,502.9 L1654.2,504.5 L1654.5,506.0 L1654.8,507.6 L1655.2,509.1 L1655.5,510.7 L1655.8,512.3 L1656.1,513.8 L1656.5,515.4 L1656.8,516.9 L1657.1,518.5 L1657.5,520.0 L1657.8,521.6 L1658.1,523.1 L1658.5,524.7 L1658.8,526.2 L1659.1,527.8 L1659.5,529.3 L1659.8,530.9 L1660.1,532.4 L1660.5,534.0 L1660.8,535.5 L1661.1,537.0 L1661.5,538.6 L1661.8,540.1 L1662.1,541.7 L1662.5,543.2 L1662.8,544.8 L1663.1,546.3 L1663.5,547.9 L1663.8,549.4 L1664.1,550.9 L1664.5,552.5 L1664.8,554.0 L1665.1,555.6 L1665.4,557.1 L1665.8,558.7 L1666.1,560.2 L1666.4,561.7 L1666.7,563.3 L1667.1,564.8 L1667.4,566.4 L1667.7,567.9 L1668.0,569.5 L1668.4,571.0 L1668.7,572.6 L1669.0,574.1 L1669.3,575.7 L1669.6,577.2 L1669.9,578.8 L1670.2,580.3 L1670.6,581.9 L1670.9,583.4 L1671.2,585.0 L1671.5,586.5 L1671.8,588.1 L1672.1,589.7 L1672.4,591.2 L1672.7,592.8 L1673.0,594.3 L1673.3,595.9 L1673.6,597.5 L1673.8,599.0 L1674.1,600.6 L1674.4,602.2 L1674.7,603.7 L1675.0,605.3 L1675.3,606.9 L1675.5,608.5 L1675.8,610.0 L1676.1,611.6 L1676.3,613.2 L1676.6,614.8 L1676.9,616.4 L1677.1,618.0 L1677.4,619.5 L1677.7,621.1 L1677.9,622.7 L1678.2,624.3 L1678.4,625.9 L1678.6,627.5 L1678.9,629.1 L1679.1,630.7 L1679.4,632.3 L1679.6,633.9 L1679.8,635.5 L1680.0,637.1 L1680.3,638.8 L1680.5,640.4 L1680.7,642.0 L1680.9,643.6 L1735.0,643.5" fill="none" stroke="#d5602f" stroke-width="6.2" stroke-dasharray="18 15.5" stroke-dashoffset="-7.75" stroke-linecap="round" stroke-linejoin="round"/>
<path d="M1045.2,154.3 L1047.2,154.9 L1049.2,155.5 L1051.1,156.1 L1053.1,156.8 L1055.1,157.5 L1057.0,158.1 L1058.9,158.9 L1060.8,159.6 L1062.7,160.3 L1064.5,161.1 L1066.3,161.8 L1068.2,162.6 L1070.0,163.4 L1071.8,164.3 L1073.5,165.1 L1075.3,166.0 L1077.0,166.8 L1078.7,167.7 L1080.5,168.6 L1082.1,169.6 L1083.8,170.5 L1085.5,171.5 L1087.1,172.4 L1088.7,173.4 L1090.4,174.4 L1091.9,175.4 L1093.5,176.5 L1095.1,177.5 L1096.6,178.6 L1098.2,179.6 L1099.7,180.7 L1101.2,181.8 L1102.7,183.0 L1104.2,184.1 L1105.6,185.2 L1107.1,186.4 L1108.5,187.6 L1109.9,188.7 L1111.3,189.9 L1112.7,191.2 L1114.1,192.4 L1115.5,193.6 L1116.8,194.9 L1118.2,196.1 L1119.5,197.4 L1120.8,198.7 L1122.1,200.0 L1123.4,201.3 L1124.6,202.6 L1125.9,204.0 L1127.2,205.3 L1128.4,206.7 L1129.6,208.1 L1130.8,209.4 L1132.0,210.8 L1133.2,212.2 L1134.4,213.6 L1135.6,215.1 L1136.7,216.5 L1137.8,217.9 L1139.0,219.4 L1140.1,220.8 L1141.2,222.3 L1142.3,223.8 L1143.4,225.3 L1144.5,226.8 L1145.5,228.3 L1146.6,229.8 L1147.6,231.3 L1148.7,232.9 L1149.7,234.4 L1150.7,236.0 L1151.7,237.5 L1152.7,239.1 L1153.7,240.7 L1154.7,242.3 L1155.6,243.9 L1156.6,245.5 L1157.5,247.1 L1158.5,248.7 L1159.4,250.3 L1160.3,251.9 L1161.2,253.6 L1162.1,255.2 L1163.0,256.8 L1163.9,258.5 L1164.8,260.2 L1165.6,261.8 L1166.5,263.5 L1167.4,265.2 L1168.2,266.8 L1169.0,268.5 L1169.9,270.2 L1170.7,271.9 L1171.5,273.6 L1172.3,275.3 L1173.1,277.0 L1173.9,278.7 L1174.7,280.5 L1175.5,282.2 L1176.3,283.9 L1177.0,285.6 L1177.8,287.4 L1178.6,289.1 L1179.3,290.9 L1180.1,292.6 L1180.8,294.4 L1181.5,296.1 L1182.3,297.9 L1183.0,299.6 L1183.7,301.4 L1184.4,303.1 L1185.1,304.9 L1185.8,306.7 L1186.5,308.4 L1187.2,310.2 L1187.9,312.0 L1188.6,313.7 L1189.2,315.5 L1189.9,317.3 L1190.6,319.1 L1191.2,320.8 L1191.9,322.6 L1192.6,324.4 L1193.2,326.2 L1193.9,328.0 L1194.5,329.7 L1195.1,331.5 L1195.8,333.3 L1196.4,335.1 L1197.0,336.9 L1197.7,338.7 L1198.3,340.5 L1198.9,342.2 L1199.5,344.0 L1200.1,345.8 L1200.7,347.6 L1201.3,349.4 L1201.9,351.2 L1202.5,353.0 L1203.1,354.8 L1203.7,356.6 L1204.3,358.4 L1204.8,360.2 L1205.4,362.0 L1206.0,363.8 L1206.6,365.6 L1207.1,367.4 L1207.7,369.2 L1208.3,371.0 L1208.8,372.8 L1209.4,374.6 L1209.9,376.4 L1210.5,378.2 L1211.0,380.1 L1211.5,381.9 L1212.1,383.7 L1212.6,385.5 L1213.1,387.3 L1213.7,389.1 L1214.2,390.9 L1214.7,392.7 L1215.2,394.6 L1215.8,396.4 L1216.3,398.2 L1216.8,400.0 L1217.3,401.8 L1217.8,403.6 L1218.3,405.5 L1218.8,407.3 L1219.3,409.1 L1219.8,410.9 L1220.3,412.8 L1220.8,414.6 L1221.3,416.4 L1221.8,418.2 L1222.3,420.0 L1222.8,421.9 L1223.3,423.7 L1223.7,425.5 L1224.2,427.4 L1224.7,429.2 L1225.2,431.0 L1225.6,432.8 L1226.1,434.7 L1226.6,436.5 L1227.0,438.3 L1227.5,440.1 L1228.0,442.0 L1228.4,443.8 L1228.9,445.6 L1229.4,447.5 L1229.8,449.3 L1230.3,451.1 L1230.7,453.0 L1231.2,454.8 L1231.6,456.6 L1232.1,458.5 L1232.5,460.3 L1233.0,462.1 L1233.4,464.0 L1233.9,465.8 L1234.3,467.6 L1234.8,469.5 L1235.2,471.3 L1235.7,473.1 L1236.1,475.0 L1236.5,476.8 L1237.0,478.6 L1237.4,480.5 L1237.8,482.3 L1238.3,484.2 L1238.7,486.0 L1239.2,487.8 L1239.6,489.7 L1240.0,491.5 L1240.5,493.3 L1240.9,495.2 L1241.3,497.0 L1241.8,498.8 L1242.2,500.7 L1242.6,502.5 L1243.0,504.4 L1243.5,506.2 L1243.9,508.0 L1244.3,509.9 L1244.8,511.7 L1245.2,513.5 L1245.6,515.4 L1246.1,517.2 L1246.5,519.0 L1246.9,520.9 L1247.3,522.7 L1247.8,524.5 L1248.2,526.4 L1248.6,528.2 L1249.1,530.1 L1249.5,531.9 L1249.9,533.7 L1250.3,535.6 L1250.8,537.4 L1251.2,539.2 L1251.6,541.1 L1252.1,542.9 L1252.5,544.7 L1252.9,546.6 L1253.4,548.4 L1253.8,550.2 L1254.2,552.1 L1254.7,553.9 L1255.1,555.7 L1255.5,557.6 L1256.0,559.4 L1256.4,561.2 L1256.9,563.0 L1257.3,564.9 L1257.7,566.7 L1258.2,568.5 L1258.6,570.4 L1259.1,572.2 L1259.5,574.0 L1260.0,575.8 L1260.4,577.7 L1260.9,579.5 L1261.3,581.3 L1261.8,583.1 L1262.2,585.0 L1262.7,586.8 L1263.1,588.6 L1263.6,590.4 L1264.1,592.3 L1264.5,594.1 L1265.0,595.9 L1265.4,597.7 L1265.9,599.5 L1266.4,601.4 L1266.8,603.2 L1267.3,605.0 L1267.8,606.8 L1268.3,608.6 L1268.7,610.4 L1269.2,612.3 L1269.7,614.1 L1270.2,615.9 L1270.7,617.7 L1271.2,619.5 L1271.6,621.3 L1272.1,623.1 L1272.6,624.9 L1273.1,626.7 L1273.6,628.5 L1274.1,630.4 L1274.6,632.2 L1275.1,634.0 L1275.6,635.8 L1276.1,637.6 L1276.7,639.4 L1277.2,641.2 L1277.7,643.0 L1735.0,643.5" fill="none" stroke="#4a80b9" stroke-width="10" stroke-linejoin="round"/>
<path d="M1045.2,154.3 L1047.2,154.9 L1049.2,155.5 L1051.1,156.1 L1053.1,156.8 L1055.1,157.5 L1057.0,158.1 L1058.9,158.9 L1060.8,159.6 L1062.7,160.3 L1064.5,161.1 L1066.3,161.8 L1068.2,162.6 L1070.0,163.4 L1071.8,164.3 L1073.5,165.1 L1075.3,166.0 L1077.0,166.8 L1078.7,167.7 L1080.5,168.6 L1082.1,169.6 L1083.8,170.5 L1085.5,171.5 L1087.1,172.4 L1088.7,173.4 L1090.4,174.4 L1091.9,175.4 L1093.5,176.5 L1095.1,177.5 L1096.6,178.6 L1098.2,179.6 L1099.7,180.7 L1101.2,181.8 L1102.7,183.0 L1104.2,184.1 L1105.6,185.2 L1107.1,186.4 L1108.5,187.6 L1109.9,188.7 L1111.3,189.9 L1112.7,191.2 L1114.1,192.4 L1115.5,193.6 L1116.8,194.9 L1118.2,196.1 L1119.5,197.4 L1120.8,198.7 L1122.1,200.0 L1123.4,201.3 L1124.6,202.6 L1125.9,204.0 L1127.2,205.3 L1128.4,206.7 L1129.6,208.1 L1130.8,209.4 L1132.0,210.8 L1133.2,212.2 L1134.4,213.6 L1135.6,215.1 L1136.7,216.5 L1137.8,217.9 L1139.0,219.4 L1140.1,220.8 L1141.2,222.3 L1142.3,223.8 L1143.4,225.3 L1144.5,226.8 L1145.5,228.3 L1146.6,229.8 L1147.6,231.3 L1148.7,232.9 L1149.7,234.4 L1150.7,236.0 L1151.7,237.5 L1152.7,239.1 L1153.7,240.7 L1154.7,242.3 L1155.6,243.9 L1156.6,245.5 L1157.5,247.1 L1158.5,248.7 L1159.4,250.3 L1160.3,251.9 L1161.2,253.6 L1162.1,255.2 L1163.0,256.8 L1163.9,258.5 L1164.8,260.2 L1165.6,261.8 L1166.5,263.5 L1167.4,265.2 L1168.2,266.8 L1169.0,268.5 L1169.9,270.2 L1170.7,271.9 L1171.5,273.6 L1172.3,275.3 L1173.1,277.0 L1173.9,278.7 L1174.7,280.5 L1175.5,282.2 L1176.3,283.9 L1177.0,285.6 L1177.8,287.4 L1178.6,289.1 L1179.3,290.9 L1180.1,292.6 L1180.8,294.4 L1181.5,296.1 L1182.3,297.9 L1183.0,299.6 L1183.7,301.4 L1184.4,303.1 L1185.1,304.9 L1185.8,306.7 L1186.5,308.4 L1187.2,310.2 L1187.9,312.0 L1188.6,313.7 L1189.2,315.5 L1189.9,317.3 L1190.6,319.1 L1191.2,320.8 L1191.9,322.6 L1192.6,324.4 L1193.2,326.2 L1193.9,328.0 L1194.5,329.7 L1195.1,331.5 L1195.8,333.3 L1196.4,335.1 L1197.0,336.9 L1197.7,338.7 L1198.3,340.5 L1198.9,342.2 L1199.5,344.0 L1200.1,345.8 L1200.7,347.6 L1201.3,349.4 L1201.9,351.2 L1202.5,353.0 L1203.1,354.8 L1203.7,356.6 L1204.3,358.4 L1204.8,360.2 L1205.4,362.0 L1206.0,363.8 L1206.6,365.6 L1207.1,367.4 L1207.7,369.2 L1208.3,371.0 L1208.8,372.8 L1209.4,374.6 L1209.9,376.4 L1210.5,378.2 L1211.0,380.1 L1211.5,381.9 L1212.1,383.7 L1212.6,385.5 L1213.1,387.3 L1213.7,389.1 L1214.2,390.9 L1214.7,392.7 L1215.2,394.6 L1215.8,396.4 L1216.3,398.2 L1216.8,400.0 L1217.3,401.8 L1217.8,403.6 L1218.3,405.5 L1218.8,407.3 L1219.3,409.1 L1219.8,410.9 L1220.3,412.8 L1220.8,414.6 L1221.3,416.4 L1221.8,418.2 L1222.3,420.0 L1222.8,421.9 L1223.3,423.7 L1223.7,425.5 L1224.2,427.4 L1224.7,429.2 L1225.2,431.0 L1225.6,432.8 L1226.1,434.7 L1226.6,436.5 L1227.0,438.3 L1227.5,440.1 L1228.0,442.0 L1228.4,443.8 L1228.9,445.6 L1229.4,447.5 L1229.8,449.3 L1230.3,451.1 L1230.7,453.0 L1231.2,454.8 L1231.6,456.6 L1232.1,458.5 L1232.5,460.3 L1233.0,462.1 L1233.4,464.0 L1233.9,465.8 L1234.3,467.6 L1234.8,469.5 L1235.2,471.3 L1235.7,473.1 L1236.1,475.0 L1236.5,476.8 L1237.0,478.6 L1237.4,480.5 L1237.8,482.3 L1238.3,484.2 L1238.7,486.0 L1239.2,487.8 L1239.6,489.7 L1240.0,491.5 L1240.5,493.3 L1240.9,495.2 L1241.3,497.0 L1241.8,498.8 L1242.2,500.7 L1242.6,502.5 L1243.0,504.4 L1243.5,506.2 L1243.9,508.0 L1244.3,509.9 L1244.8,511.7 L1245.2,513.5 L1245.6,515.4 L1246.1,517.2 L1246.5,519.0 L1246.9,520.9 L1247.3,522.7 L1247.8,524.5 L1248.2,526.4 L1248.6,528.2 L1249.1,530.1 L1249.5,531.9 L1249.9,533.7 L1250.3,535.6 L1250.8,537.4 L1251.2,539.2 L1251.6,541.1 L1252.1,542.9 L1252.5,544.7 L1252.9,546.6 L1253.4,548.4 L1253.8,550.2 L1254.2,552.1 L1254.7,553.9 L1255.1,555.7 L1255.5,557.6 L1256.0,559.4 L1256.4,561.2 L1256.9,563.0 L1257.3,564.9 L1257.7,566.7 L1258.2,568.5 L1258.6,570.4 L1259.1,572.2 L1259.5,574.0 L1260.0,575.8 L1260.4,577.7 L1260.9,579.5 L1261.3,581.3 L1261.8,583.1 L1262.2,585.0 L1262.7,586.8 L1263.1,588.6 L1263.6,590.4 L1264.1,592.3 L1264.5,594.1 L1265.0,595.9 L1265.4,597.7 L1265.9,599.5 L1266.4,601.4 L1266.8,603.2 L1267.3,605.0 L1267.8,606.8 L1268.3,608.6 L1268.7,610.4 L1269.2,612.3 L1269.7,614.1 L1270.2,615.9 L1270.7,617.7 L1271.2,619.5 L1271.6,621.3 L1272.1,623.1 L1272.6,624.9 L1273.1,626.7 L1273.6,628.5 L1274.1,630.4 L1274.6,632.2 L1275.1,634.0 L1275.6,635.8 L1276.1,637.6 L1276.7,639.4 L1277.2,641.2 L1277.7,643.0 L1735.0,643.5" fill="none" stroke="#955e58" stroke-width="3.8" stroke-linejoin="round"/>
<rect x="1046.3" y="46.5" width="688.7" height="632" fill="none" stroke="#555555" stroke-width="3"/>
<path d="M1046.3,678.5 v-12 M1046.3,46.5 v12 M1087.8,678.5 v-7 M1087.8,46.5 v7 M1112.0,678.5 v-7 M1112.0,46.5 v7 M1129.2,678.5 v-7 M1129.2,46.5 v7 M1142.6,678.5 v-7 M1142.6,46.5 v7 M1153.5,678.5 v-7 M1153.5,46.5 v7 M1162.7,678.5 v-7 M1162.7,46.5 v7 M1170.7,678.5 v-7 M1170.7,46.5 v7 M1177.7,678.5 v-7 M1177.7,46.5 v7 M1184.0,678.5 v-12 M1184.0,46.5 v12 M1225.5,678.5 v-7 M1225.5,46.5 v7 M1249.8,678.5 v-7 M1249.8,46.5 v7 M1267.0,678.5 v-7 M1267.0,46.5 v7 M1280.3,678.5 v-7 M1280.3,46.5 v7 M1291.2,678.5 v-7 M1291.2,46.5 v7 M1300.4,678.5 v-7 M1300.4,46.5 v7 M1308.4,678.5 v-7 M1308.4,46.5 v7 M1315.5,678.5 v-7 M1315.5,46.5 v7 M1321.8,678.5 v-12 M1321.8,46.5 v12 M1363.2,678.5 v-7 M1363.2,46.5 v7 M1387.5,678.5 v-7 M1387.5,46.5 v7 M1404.7,678.5 v-7 M1404.7,46.5 v7 M1418.1,678.5 v-7 M1418.1,46.5 v7 M1429.0,678.5 v-7 M1429.0,46.5 v7 M1438.2,678.5 v-7 M1438.2,46.5 v7 M1446.2,678.5 v-7 M1446.2,46.5 v7 M1453.2,678.5 v-7 M1453.2,46.5 v7 M1459.5,678.5 v-12 M1459.5,46.5 v12 M1501.0,678.5 v-7 M1501.0,46.5 v7 M1525.2,678.5 v-7 M1525.2,46.5 v7 M1542.4,678.5 v-7 M1542.4,46.5 v7 M1555.8,678.5 v-7 M1555.8,46.5 v7 M1566.7,678.5 v-7 M1566.7,46.5 v7 M1575.9,678.5 v-7 M1575.9,46.5 v7 M1583.9,678.5 v-7 M1583.9,46.5 v7 M1591.0,678.5 v-7 M1591.0,46.5 v7 M1597.3,678.5 v-12 M1597.3,46.5 v12 M1638.7,678.5 v-7 M1638.7,46.5 v7 M1663.0,678.5 v-7 M1663.0,46.5 v7 M1680.2,678.5 v-7 M1680.2,46.5 v7 M1693.5,678.5 v-7 M1693.5,46.5 v7 M1704.4,678.5 v-7 M1704.4,46.5 v7 M1713.7,678.5 v-7 M1713.7,46.5 v7 M1721.7,678.5 v-7 M1721.7,46.5 v7 M1728.7,678.5 v-7 M1728.7,46.5 v7 M1046.3,569.0 h9 M1735,569.0 h-11 M1046.3,494.6 h9 M1735,494.6 h-11 M1046.3,420.1 h9 M1735,420.1 h-11 M1046.3,345.7 h9 M1735,345.7 h-11 M1046.3,271.2 h9 M1735,271.2 h-11 M1046.3,196.8 h9 M1735,196.8 h-11 M1046.3,122.4 h9 M1735,122.4 h-11 M1046.3,643.5 h9 M1735,643.5 h-11" stroke="#555555" stroke-width="2.5" fill="none"/>
<path d="M1279.5,681 L1296.7,695.8 L1261.7,695.8 Z" fill="#3f8f6f"/>
<text x="50.2 89.5 104.2 143.8" y="138.7" font-size="80.9" style="font-family:'Liberation Serif',serif" font-style="normal" font-weight="normal" fill="#000">0.15</text>
<text x="72.0 110.0 125.6" y="302.9" font-size="80.9" style="font-family:'Liberation Serif',serif" font-style="normal" font-weight="normal" fill="#000">0.1</text>
<text x="50.1 89.5 107.0 143.8" y="478.3" font-size="81.8" style="font-family:'Liberation Serif',serif" font-style="normal" font-weight="normal" fill="#000">0.05</text>
<text x="104.9" y="642.4" font-size="81.6" style="font-family:'Liberation Serif',serif" font-style="normal" font-weight="normal" fill="#000">0</text>
<text x="215.6" y="116.8" font-size="73.6" style="font-family:'Liberation Serif',serif" font-style="normal" font-weight="normal" fill="#000" letter-spacing="2.32">(c)</text>
<text x="371.9" y="117.3" font-size="65.3" style="font-family:'Liberation Serif',serif" font-style="normal" font-weight="bold" fill="#000" textLength="134.2" lengthAdjust="spacingAndGlyphs">DMB</text>
<text x="10.6" y="375.9" font-size="85.5" style="font-family:'Liberation Serif',serif" font-style="italic" font-weight="normal" fill="#000" textLength="51.2" lengthAdjust="spacingAndGlyphs">E</text>
<text x="48.5" y="390.3" font-size="55.2" style="font-family:'DejaVu Math TeX Gyre',serif" font-style="normal" font-weight="normal" fill="#000" textLength="62.5" lengthAdjust="spacingAndGlyphs">&#x1D4A9;</text>
<text x="96.9" y="392.1" font-size="34.4" style="font-family:'Liberation Serif',serif" font-style="italic" font-weight="normal" fill="#000" textLength="9.2" lengthAdjust="spacingAndGlyphs">,</text>
<text x="125.7" y="389.1" font-size="60.6" style="font-family:'Liberation Serif',serif" font-style="italic" font-weight="normal" fill="#000" textLength="17.8" lengthAdjust="spacingAndGlyphs">j</text>
<line x1="628" y1="255.9" x2="690" y2="255.9" stroke="#2f70b0" stroke-width="5"/>
<line x1="629" y1="282.8" x2="646.5" y2="282.8" stroke="#2f70b0" stroke-width="5"/>
<line x1="674.5" y1="282.8" x2="691" y2="282.8" stroke="#2f70b0" stroke-width="5"/>
<text x="696.1" y="289.5" font-size="77.7" style="font-family:'Liberation Serif',serif" font-style="italic" font-weight="normal" fill="#2f70b0" textLength="44.9" lengthAdjust="spacingAndGlyphs">E</text>
<text x="730.0" y="303.1" font-size="55.6" style="font-family:'DejaVu Math TeX Gyre',serif" font-style="normal" font-weight="normal" fill="#2f70b0" textLength="62.5" lengthAdjust="spacingAndGlyphs">&#x1D4A9;</text>
<text x="773.5" y="302.5" font-size="32.7" style="font-family:'Liberation Serif',serif" font-style="normal" font-weight="normal" fill="#2f70b0" textLength="11.2" lengthAdjust="spacingAndGlyphs">,</text>
<text x="786.7" y="302.6" font-size="57.6" style="font-family:'Liberation Serif',serif" font-style="normal" font-weight="normal" fill="#2f70b0">1</text>
<line x1="628" y1="339.7" x2="690" y2="339.7" stroke="#d0603a" stroke-width="5"/>
<line x1="629" y1="365.5" x2="646.5" y2="365.5" stroke="#d0603a" stroke-width="5"/>
<line x1="674.5" y1="365.5" x2="691" y2="365.5" stroke="#d0603a" stroke-width="5"/>
<text x="693.1" y="377.5" font-size="77.9" style="font-family:'Liberation Serif',serif" font-style="italic" font-weight="normal" fill="#d0603a" textLength="46.9" lengthAdjust="spacingAndGlyphs">E</text>
<text x="725.9" y="389.8" font-size="55.4" style="font-family:'DejaVu Math TeX Gyre',serif" font-style="normal" font-weight="normal" fill="#d0603a" textLength="62.7" lengthAdjust="spacingAndGlyphs">&#x1D4A9;</text>
<text x="770.1" y="391.4" font-size="32.3" style="font-family:'Liberation Serif',serif" font-style="normal" font-weight="normal" fill="#d0603a" textLength="12.7" lengthAdjust="spacingAndGlyphs">,</text>
<text x="786.1" y="390.0" font-size="57.6" style="font-family:'Liberation Serif',serif" font-style="normal" font-weight="normal" fill="#d0603a" textLength="27.9" lengthAdjust="spacingAndGlyphs">2</text>
<text x="379.3" y="683.8" font-size="59.9" style="font-family:'Liberation Serif',serif" font-style="normal" font-weight="normal" fill="#000" textLength="132.4" lengthAdjust="spacingAndGlyphs">DMU</text>
<text x="184.2" y="777.7" font-size="78.8" style="font-family:'Liberation Serif',serif" font-style="normal" font-weight="normal" fill="#000">0</text>
<text x="447.5" y="777.6" font-size="78.6" style="font-family:'Liberation Serif',serif" font-style="normal" font-weight="normal" fill="#000">1</text>
<text x="501.2" y="777.6" font-size="71.1" style="font-family:'Liberation Serif',serif" font-style="normal" font-weight="normal" fill="#000" textLength="45.5" lengthAdjust="spacingAndGlyphs">&#916;</text>
<text x="555.7" y="777.8" font-size="72.5" style="font-family:'Liberation Serif',serif" font-style="normal" font-weight="normal" fill="#000" textLength="11.8" lengthAdjust="spacingAndGlyphs">/</text>
<text x="570.2" y="778.6" font-size="70.0" style="font-family:'Liberation Serif',serif" font-style="italic" font-weight="normal" fill="#000" textLength="52.6" lengthAdjust="spacingAndGlyphs">&#969;</text>
<text x="616.9" y="793.7" font-size="56.0" style="font-family:'Liberation Serif',serif" font-style="italic" font-weight="normal" fill="#000" textLength="37.9" lengthAdjust="spacingAndGlyphs">m</text>
<text x="720.9" y="776.8" font-size="77.5" style="font-family:'Liberation Serif',serif" font-style="normal" font-weight="normal" fill="#000" textLength="39.0" lengthAdjust="spacingAndGlyphs">2</text>
<text x="938.7 976.9 994.7" y="78.2" font-size="72.4" style="font-family:'Liberation Serif',serif" font-style="normal" font-weight="normal" fill="#000">0.2</text>
<text x="938.7 976.9 994.1" y="362.5" font-size="73.1" style="font-family:'Liberation Serif',serif" font-style="normal" font-weight="normal" fill="#000">0.1</text>
<text x="976.1" y="656.8" font-size="70.3" style="font-family:'Liberation Serif',serif" font-style="normal" font-weight="normal" fill="#000">0</text>
<text x="1062.0" y="115.2" font-size="67.1" style="font-family:'Liberation Serif',serif" font-style="normal" font-weight="normal" fill="#000" letter-spacing="2.16">(d)</text>
<text x="1322.5" y="131.0" font-size="57.9" style="font-family:'Liberation Serif',serif" font-style="normal" font-weight="bold" fill="#000" textLength="137.0" lengthAdjust="spacingAndGlyphs">DMB</text>
<text x="898.1" y="225.9" font-size="78.5" style="font-family:'Liberation Serif',serif" font-style="italic" font-weight="normal" fill="#000" textLength="50.9" lengthAdjust="spacingAndGlyphs">E</text>
<text x="937.1" y="235.7" font-size="48.2" style="font-family:'DejaVu Math TeX Gyre',serif" font-style="normal" font-weight="normal" fill="#000" textLength="55.4" lengthAdjust="spacingAndGlyphs">&#x1D4A9;</text>
<text x="976.6" y="235.9" font-size="31.5" style="font-family:'Liberation Serif',serif" font-style="normal" font-weight="normal" fill="#000" textLength="10.5" lengthAdjust="spacingAndGlyphs">,</text>
<text x="993.1" y="234.3" font-size="44.2" style="font-family:'Liberation Serif',serif" font-style="italic" font-weight="normal" fill="#000" textLength="17.9" lengthAdjust="spacingAndGlyphs">j</text>
<line x1="1330" y1="341" x2="1393" y2="341" stroke="#2f70b0" stroke-width="5"/>
<line x1="1330.5" y1="364.8" x2="1347.5" y2="364.8" stroke="#2f70b0" stroke-width="5"/>
<line x1="1375.5" y1="364.8" x2="1394" y2="364.8" stroke="#2f70b0" stroke-width="5"/>
<text x="1398.1" y="370.7" font-size="70.0" style="font-family:'Liberation Serif',serif" font-style="italic" font-weight="normal" fill="#2f70b0" textLength="45.0" lengthAdjust="spacingAndGlyphs">E</text>
<text x="1433.3" y="382.2" font-size="49.5" style="font-family:'DejaVu Math TeX Gyre',serif" font-style="normal" font-weight="normal" fill="#2f70b0" textLength="59.5" lengthAdjust="spacingAndGlyphs">&#x1D4A9;</text>
<text x="1476.3" y="382.8" font-size="30.8" style="font-family:'Liberation Serif',serif" font-style="normal" font-weight="normal" fill="#2f70b0" textLength="11.2" lengthAdjust="spacingAndGlyphs">,</text>
<text x="1491.1" y="382.9" font-size="51.5" style="font-family:'Liberation Serif',serif" font-style="normal" font-weight="normal" fill="#2f70b0">1</text>
<line x1="1330" y1="416.6" x2="1393" y2="416.6" stroke="#d0603a" stroke-width="5"/>
<line x1="1330.5" y1="440.4" x2="1347.5" y2="440.4" stroke="#d0603a" stroke-width="5"/>
<line x1="1375.5" y1="440.4" x2="1394" y2="440.4" stroke="#d0603a" stroke-width="5"/>
<text x="1397.1" y="451.4" font-size="71.7" style="font-family:'Liberation Serif',serif" font-style="italic" font-weight="normal" fill="#d0603a" textLength="44.9" lengthAdjust="spacingAndGlyphs">E</text>
<text x="1430.5" y="461.7" font-size="49.6" style="font-family:'DejaVu Math TeX Gyre',serif" font-style="normal" font-weight="normal" fill="#d0603a" textLength="59.9" lengthAdjust="spacingAndGlyphs">&#x1D4A9;</text>
<text x="1473.5" y="463.4" font-size="32.3" style="font-family:'Liberation Serif',serif" font-style="normal" font-weight="normal" fill="#d0603a" textLength="12.2" lengthAdjust="spacingAndGlyphs">,</text>
<text x="1488.8" y="461.8" font-size="51.8" style="font-family:'Liberation Serif',serif" font-style="normal" font-weight="normal" fill="#d0603a" textLength="26.7" lengthAdjust="spacingAndGlyphs">2</text>
<text x="1339.1" y="630.4" font-size="52.8" style="font-family:'Liberation Serif',serif" font-style="normal" font-weight="normal" fill="#000" textLength="134.9" lengthAdjust="spacingAndGlyphs">DMU</text>
<text transform="translate(1140.5,618.5) rotate(-90)" x="0" y="0" font-size="54.2" style="font-family:'Liberation Serif',serif" font-style="normal" font-weight="bold" fill="#3a8ea3" textLength="294.7" lengthAdjust="spacingAndGlyphs">Ground State</text>
<text x="1005.3 1043.6" y="760.3" font-size="72.6" style="font-family:'Liberation Serif',serif" font-style="normal" font-weight="normal" fill="#000">10</text>
<text x="1082.7 1102.7" y="728.7" font-size="55.1" style="font-family:'Liberation Serif',serif" font-style="normal" font-weight="normal" fill="#000">-2</text>
<text x="1140.7 1179.5" y="760.3" font-size="72.6" style="font-family:'Liberation Serif',serif" font-style="normal" font-weight="normal" fill="#000">10</text>
<text x="1215.2 1233.0" y="733.5" font-size="56.1" style="font-family:'Liberation Serif',serif" font-style="normal" font-weight="normal" fill="#000">-1</text>
<text x="1304.1" y="752.3" font-size="69.8" style="font-family:'Liberation Serif',serif" font-style="normal" font-weight="normal" fill="#000">1</text>
<line x1="1365" y1="733" x2="1407.3" y2="733" stroke="#000" stroke-width="5.5"/>
<text x="1356.6" y="786.4" font-size="86.7" style="font-family:'Liberation Serif',serif" font-style="italic" font-weight="normal" fill="#000" textLength="50.4" lengthAdjust="spacingAndGlyphs">n</text>
<text x="1422.5 1461.3" y="753.0" font-size="73.2" style="font-family:'Liberation Serif',serif" font-style="normal" font-weight="normal" fill="#000">10</text>
<text x="1540.5 1578.1" y="752.6" font-size="71.5" style="font-family:'Liberation Serif',serif" font-style="normal" font-weight="normal" fill="#000">10</text>
<text x="1618.2" y="725.7" font-size="57.0" style="font-family:'Liberation Serif',serif" font-style="normal" font-weight="normal" fill="#000" textLength="29.6" lengthAdjust="spacingAndGlyphs">2</text>
<text x="1670.7 1709.3" y="752.6" font-size="71.5" style="font-family:'Liberation Serif',serif" font-style="normal" font-weight="normal" fill="#000">10</text>
<text x="1746.4" y="727.0" font-size="59.0" style="font-family:'Liberation Serif',serif" font-style="normal" font-weight="normal" fill="#000" textLength="26.3" lengthAdjust="spacingAndGlyphs">3</text>
<g fill="#777">
<ellipse cx="272" cy="36" rx="8" ry="2"/>
<ellipse cx="662" cy="36" rx="8" ry="2"/>
<ellipse cx="92" cy="797" rx="4.5" ry="1.5" fill="#bbb"/>
<ellipse cx="143" cy="797" rx="4.5" ry="1.5" fill="#bbb"/>
<circle cx="1753" cy="228" r="1.5" fill="#999"/>
</g>
</svg>
</body></html>
